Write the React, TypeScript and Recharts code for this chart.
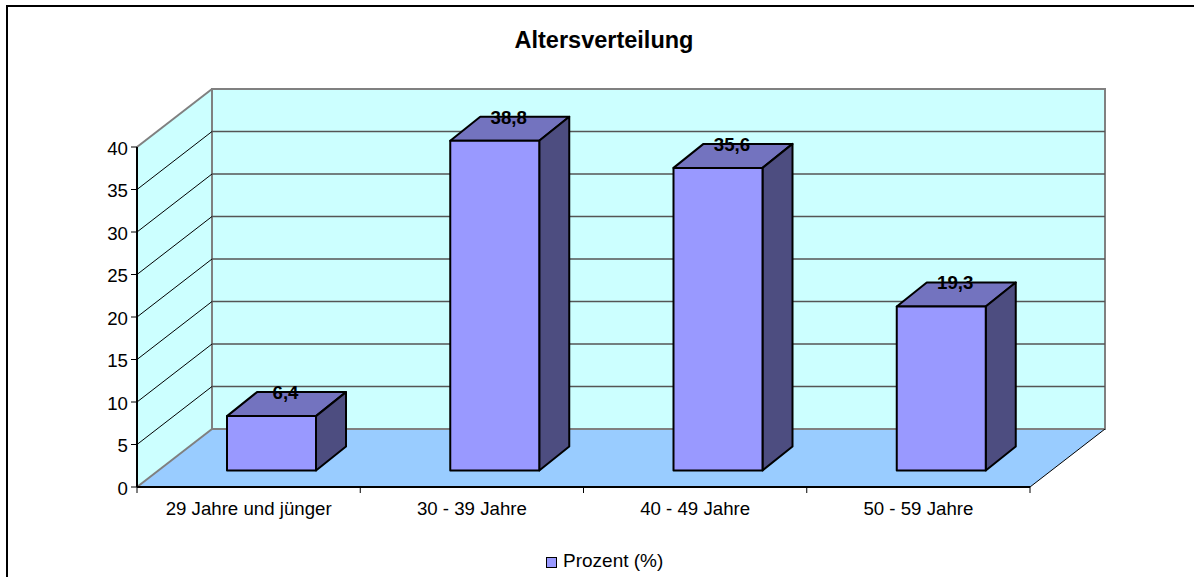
import { BarChart, Bar, XAxis, YAxis, Legend, LabelList, Customized } from 'recharts';

const categories = ['29 Jahre und jünger', '30 - 39 Jahre', '40 - 49 Jahre', '50 - 59 Jahre'];
const prozent = [6.4, 38.8, 35.6, 19.3];
const yTicks = [0, 5, 10, 15, 20, 25, 30, 35, 40];
const seriesName = 'Prozent (%)';
const chartTitle = 'Altersverteilung';

const data = categories.map((name, i) => ({ name, value: prozent[i] }));

const FONT = '"Liberation Sans", Arial, sans-serif';
const WIDTH = 1194;
const HEIGHT = 577;
// plot area of the front plane
const LEFT = 137;
const RIGHT = 1030;
const TOP = 147;
const BOTTOM = 487;
// 3d offsets: whole depth of the box, bar position inside it, bar depth
const DX = 75;
const DY = 58;
const BAR_DX = 23;
const BAR_DY = 16.5;
const BAR_DEPTH_X = 30;
const BAR_DEPTH_Y = 24;

const yOf = (v: number) => BOTTOM - ((BOTTOM - TOP) * v) / 40;

const Walls = () => {
  const backL = LEFT + DX;
  const backR = RIGHT + DX;
  return (
    <g>
      <text x={604} y={48} textAnchor="middle" fontFamily={FONT} fontWeight="bold" fontSize={23.5} fill="#000">
        {chartTitle}
      </text>
      <polygon points={`${LEFT},${TOP} ${backL},${TOP - DY} ${backL},${BOTTOM - DY} ${LEFT},${BOTTOM}`} fill="#CCFFFF" />
      <rect x={backL} y={TOP - DY} width={RIGHT - LEFT} height={BOTTOM - TOP} fill="#CCFFFF" stroke="#808080" strokeWidth={2} />
      <polygon points={`${LEFT},${BOTTOM} ${backL},${BOTTOM - DY} ${backR},${BOTTOM - DY} ${RIGHT},${BOTTOM}`} fill="#99CCFF" />
      {yTicks.slice(1, -1).map((t) => (
        <g key={t}>
          <line x1={LEFT} y1={yOf(t)} x2={backL} y2={yOf(t) - DY} stroke="#000" strokeWidth={1} />
          <line x1={backL} y1={yOf(t) - DY} x2={backR} y2={yOf(t) - DY} stroke="#555" strokeWidth={1.5} />
        </g>
      ))}
      <line x1={LEFT} y1={TOP} x2={backL} y2={TOP - DY} stroke="#808080" strokeWidth={2} />
      <line x1={LEFT} y1={BOTTOM} x2={backL} y2={BOTTOM - DY} stroke="#808080" strokeWidth={2} />
      <line x1={backL} y1={BOTTOM - DY} x2={backR} y2={BOTTOM - DY} stroke="#808080" strokeWidth={2} />
      <line x1={RIGHT} y1={BOTTOM} x2={backR} y2={BOTTOM - DY} stroke="#000" strokeWidth={1} />
    </g>
  );
};

const Bar3D = (props: any) => {
  const { x, y, width, height } = props;
  const l = x + BAR_DX;
  const r = l + width;
  const t = y - BAR_DY;
  const b = t + height;
  const dx = BAR_DEPTH_X;
  const dy = BAR_DEPTH_Y;
  return (
    <g stroke="#000" strokeWidth={2} strokeLinejoin="round">
      <polygon points={`${l},${t} ${l + dx},${t - dy} ${r + dx},${t - dy} ${r},${t}`} fill="#7373BF" />
      <polygon points={`${r},${t} ${r + dx},${t - dy} ${r + dx},${b - dy} ${r},${b}`} fill="#4D4D80" />
      <rect x={l} y={t} width={width} height={height} fill="#9999FF" />
    </g>
  );
};

const ValueLabel = (props: any) => {
  const { x, y, width, value } = props;
  return (
    <text
      x={x + width / 2 + BAR_DX + 14}
      y={y - BAR_DY - 17}
      textAnchor="middle"
      fontFamily={FONT}
      fontWeight="bold"
      fontSize={18.67}
      fill="#000"
    >
      {String(value).replace('.', ',')}
    </text>
  );
};

const CategoryTick = (props: any) => {
  const { x, y, payload, index } = props;
  const band = (RIGHT - LEFT) / categories.length;
  return (
    <g>
      <line x1={x - band / 2} y1={BOTTOM} x2={x - band / 2} y2={BOTTOM + 6} stroke="#000" />
      {index === categories.length - 1 && <line x1={x + band / 2} y1={BOTTOM} x2={x + band / 2} y2={BOTTOM + 6} stroke="#000" />}
      <text x={x} y={y + 20} textAnchor="middle" fontFamily={FONT} fontSize={18.67} fill="#000">
        {payload.value}
      </text>
    </g>
  );
};

const LegendBox = () => (
  <div style={{ position: 'relative', height: 30, fontFamily: FONT, fontSize: 19, color: '#000' }}>
    <span
      style={{
        position: 'absolute',
        left: 546,
        top: 9,
        width: 9,
        height: 9,
        background: '#9999FF',
        border: '1.5px solid #000',
      }}
    />
    <span style={{ position: 'absolute', left: 563, top: 2, lineHeight: '22px', whiteSpace: 'nowrap' }}>{seriesName}</span>
  </div>
);

export default function App() {
  return (
    <div style={{ position: 'absolute', left: 0, top: 0, width: WIDTH, height: HEIGHT, background: '#fff', overflow: 'hidden' }}>
      <div
        style={{
          position: 'absolute',
          left: 6,
          top: 5,
          width: 1300,
          height: 700,
          border: '2px solid #000',
        }}
      />
      <BarChart
        width={WIDTH}
        height={HEIGHT}
        data={data}
        barSize={89}
        margin={{ top: TOP, right: WIDTH - RIGHT, bottom: 30, left: LEFT - 60 }}
        style={{ position: 'absolute', left: 0, top: 0 }}
      >
        <Customized component={Walls} />
        <XAxis
          dataKey="name"
          interval={0}
          height={30}
          tickLine={false}
          axisLine={{ stroke: '#000', strokeWidth: 2 }}
          tick={<CategoryTick />}
        />
        <YAxis
          width={60}
          domain={[0, 40]}
          ticks={yTicks}
          interval={0}
          tickSize={6}
          tickMargin={3}
          axisLine={{ stroke: '#000', strokeWidth: 2 }}
          tickLine={{ stroke: '#000' }}
          tick={{ fill: '#000', fontFamily: FONT, fontSize: 18.67, dy: 1 }}
        />
        <Legend
          height={30}
          content={<LegendBox />}
          wrapperStyle={{ left: 0, width: WIDTH, top: 548, bottom: 'auto' }}
        />
        <Bar dataKey="value" name={seriesName} shape={<Bar3D />} isAnimationActive={false}>
          <LabelList dataKey="value" content={<ValueLabel />} />
        </Bar>
      </BarChart>
    </div>
  );
}
